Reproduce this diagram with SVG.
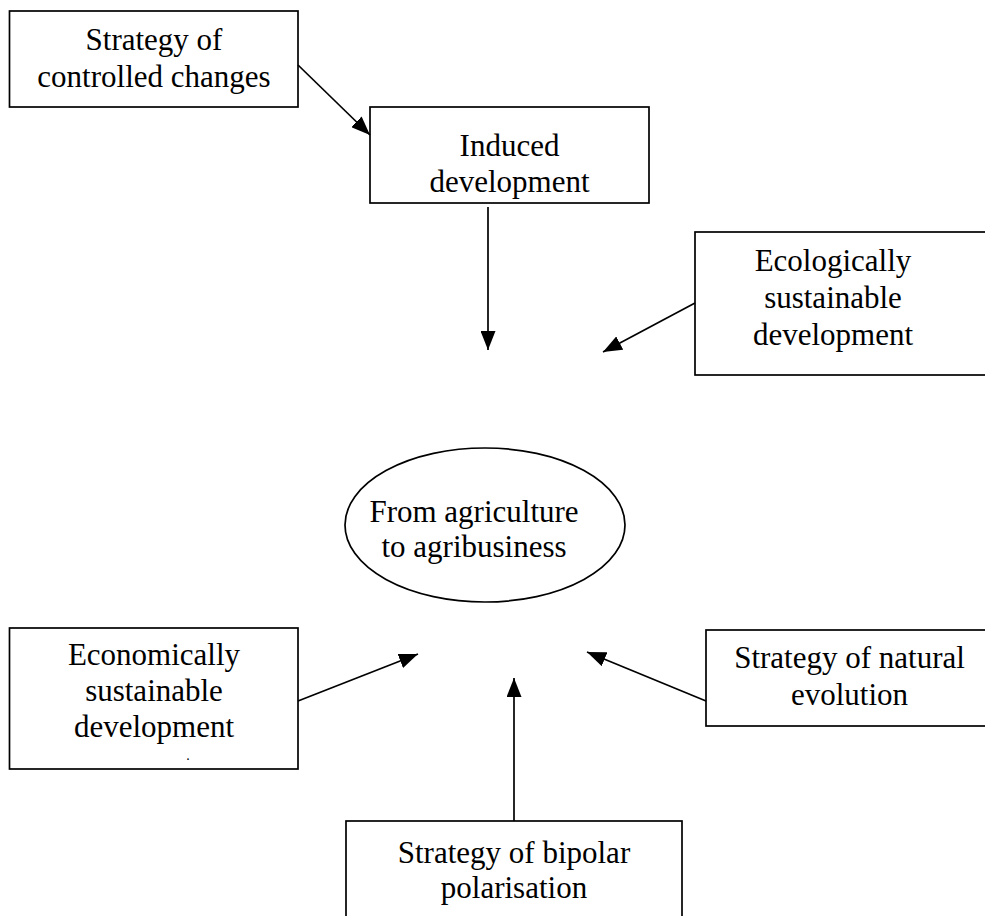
<svg xmlns="http://www.w3.org/2000/svg" width="985" height="916" viewBox="0 0 985 916">
<style>
.box{fill:#fff;stroke:#000;stroke-width:1.7}
.t{font-family:"Liberation Serif","Times New Roman",serif;font-size:31px;fill:#000;text-anchor:middle}
.c{stroke:#000;stroke-width:1.7;fill:none;marker-end:url(#ah)}
</style>
<defs>
<marker id="ah" markerUnits="userSpaceOnUse" markerWidth="19" markerHeight="15" refX="19" refY="7.5" orient="auto">
<path d="M0,0 L19,7.5 L0,15 z" fill="#000"/>
</marker>
</defs>
<rect width="985" height="916" fill="#fff"/>
<g id="n-controlled">
<rect class="box" x="9.5" y="11" width="288.5" height="96"/>
<text class="t" x="154" y="50">Strategy of</text>
<text class="t" x="154" y="87">controlled changes</text>
</g>
<g id="n-induced">
<rect class="box" x="370" y="107" width="279" height="96"/>
<text class="t" x="509.5" y="156">Induced</text>
<text class="t" x="509.5" y="192">development</text>
</g>
<g id="n-ecological">
<rect class="box" x="695" y="232" width="300" height="143"/>
<text class="t" x="833" y="271">Ecologically</text>
<text class="t" x="833" y="308">sustainable</text>
<text class="t" x="833" y="345">development</text>
</g>
<g id="n-center">
<ellipse class="box" cx="485" cy="525" rx="140" ry="77"/>
<text class="t" x="474" y="522">From agriculture</text>
<text class="t" x="474" y="557">to agribusiness</text>
</g>
<g id="n-economic">
<rect class="box" x="9.5" y="628" width="288.5" height="141"/>
<text class="t" x="154" y="665">Economically</text>
<text class="t" x="154" y="701">sustainable</text>
<text class="t" x="154" y="737">development</text>
<text class="t" x="188" y="760" style="font-size:14px">.</text>
</g>
<g id="n-natural">
<rect class="box" x="706" y="630" width="300" height="96"/>
<text class="t" x="849.5" y="668">Strategy of natural</text>
<text class="t" x="849.5" y="705">evolution</text>
</g>
<g id="n-bipolar">
<rect class="box" x="346" y="821" width="336" height="120"/>
<text class="t" x="514" y="863">Strategy of bipolar</text>
<text class="t" x="514" y="898">polarisation</text>
</g>
<g id="connectors">
<line class="c" x1="298" y1="65" x2="370" y2="135"/>
<line class="c" x1="488" y1="207" x2="488" y2="350"/>
<line class="c" x1="695" y1="303" x2="603" y2="352"/>
<line class="c" x1="298" y1="701" x2="418" y2="654"/>
<line class="c" x1="706" y1="701" x2="587" y2="652"/>
<line class="c" x1="514" y1="821" x2="514" y2="678"/>
</g>
</svg>
